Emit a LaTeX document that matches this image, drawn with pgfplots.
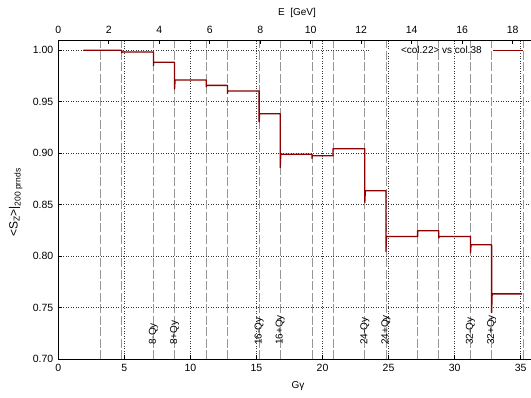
\documentclass[border=0pt]{standalone}
\usepackage{pgfplots}
\pgfplotsset{compat=1.18}
\usepackage{fontspec}
\setmainfont{Liberation Sans}

\definecolor{spinred}{RGB}{139,0,0}
\definecolor{resgray}{RGB}{150,150,150}

\pgfplotsset{
  every axis/.append style={
    scale only axis, width=475.6pt, height=319pt,
    ymin=0.70, ymax=1.01,
    tick align=inside, major tick length=4pt,
    /pgf/number format/assume math mode=true,
    tick label style={font=\fontsize{10.5}{12}\selectfont},
    label style={font=\fontsize{10.5}{12}\selectfont},
    axis line style={line width=0.9pt},
    major tick style={line width=0.8pt, black},
  },
}
\tikzset{
  reslabel/.style={rotate=90, anchor=west, inner sep=0pt, font=\fontsize{10}{12}\selectfont},
}

\begin{document}
\begin{tikzpicture}[font=\fontsize{10}{12}\selectfont]
\begin{axis}[
  xmin=0, xmax=36,
  axis x line*=bottom, axis y line*=left,
  xtick={0,5,10,15,20,25,30,35},
  ytick={0.70,0.75,0.80,0.85,0.90,0.95,1.00},
  xticklabel style={yshift=-2pt},
  yticklabel style={xshift=-1.5pt, /pgf/number format/.cd, fixed, fixed zerofill, precision=2},
  grid=major,
  grid style={black!80, line width=0.5pt, dash pattern=on 0.8pt off 1.7pt},
  xlabel={Gγ},
  ylabel={\fontsize{12}{13}\selectfont <S\raisebox{-0.3ex}{\fontsize{8.5}{9}\selectfont Z}>|\raisebox{-0.45ex}{\fontsize{8.5}{9}\selectfont 200 prnds}},
  every axis x label/.style={at={(axis description cs:0.504,-0.0846)}, anchor=center},
  every axis y label/.style={at={(axis description cs:-0.0896,0.49)}, rotate=90, anchor=center},
  legend plot pos=right,
  legend cell align=right,
  legend image code/.code={\path (0pt,0pt); \draw[#1, line width=1pt] (11pt,0pt) -- (41pt,0pt);},
  legend style={draw=none, fill=none, inner sep=0pt,
    nodes={inner sep=0pt, font=\fontsize{10}{12}\selectfont},
    at={(axis description cs:0.9792,0.9677)}, anchor=east},
]
% keep the key area clear of the 1.00 grid line
\fill[white] (axis cs:23.67,0.9985) rectangle (axis cs:35.6,1.0015);

% intrinsic resonances 4k +/- Qy
\pgfplotsinvokeforeach{3.2,4.8,7.2,8.8,11.2,12.8,15.2,16.8,19.2,20.8,23.2,24.8,27.2,28.8,31.2,32.8,35.2}{
  \draw[resgray, line width=0.8pt, dash pattern=on 9pt off 2.5pt] (axis cs:#1,0.70) -- (axis cs:#1,1.01);
}
\node[reslabel] at (axis cs:7.2,0.7136) {8-Qy};
\node[reslabel] at (axis cs:8.8,0.7136) {8+Qy};
\node[reslabel] at (axis cs:15.2,0.7136) {16-Qy};
\node[reslabel] at (axis cs:16.8,0.7136) {16+Qy};
\node[reslabel] at (axis cs:23.2,0.7136) {24-Qy};
\node[reslabel] at (axis cs:24.8,0.7136) {24+Qy};
\node[reslabel] at (axis cs:31.2,0.7136) {32-Qy};
\node[reslabel] at (axis cs:32.8,0.7136) {32+Qy};

\addplot[spinred, line width=1.3pt, line join=round] coordinates {
  (1.9,1.0000) (3.2,1.0000) (4.8,1.0000) (4.8,0.9975) (4.83,0.9984)
  (7.2,0.9984) (7.2,0.9851) (7.23,0.9883)
  (8.8,0.9883) (8.8,0.9624) (8.84,0.9712)
  (11.2,0.9712) (11.2,0.9645) (11.23,0.9659)
  (12.8,0.9659) (12.8,0.9580) (12.84,0.9605)
  (15.2,0.9605) (15.2,0.9305) (15.24,0.9384)
  (16.8,0.9384) (16.8,0.8860) (16.84,0.8990)
  (19.2,0.8990) (19.2,0.8950) (19.23,0.8975)
  (20.8,0.8975) (20.8,0.9044)
  (23.2,0.9044) (23.2,0.8520) (23.24,0.8635)
  (24.8,0.8635) (24.8,0.8044) (24.84,0.8190)
  (27.2,0.8190) (27.2,0.8246)
  (28.8,0.8246) (28.8,0.8175) (28.83,0.8190)
  (31.2,0.8190) (31.2,0.8030) (31.24,0.8110)
  (32.8,0.8110) (32.8,0.7450) (32.84,0.7633)
  (35.1,0.7633)
};
\addlegendentry{<col.22> vs col.38}
\end{axis}

% upper scale: beam energy E = Gγ m/G
\begin{axis}[
  xmin=0, xmax=18.840,
  axis x line*=top, axis y line=none,
  xtick={0,2,4,6,8,10,12,14,16,18},
  xticklabel style={yshift=2.5pt},
  xlabel={E\ \ [GeV]},
  every axis x label/.style={at={(axis description cs:0.502,1.0846)}, anchor=center},
]
\end{axis}

\pgfresetboundingbox
\useasboundingbox (-58.3pt,-38pt) rectangle (472.7pt,359pt);
\end{tikzpicture}
\end{document}
